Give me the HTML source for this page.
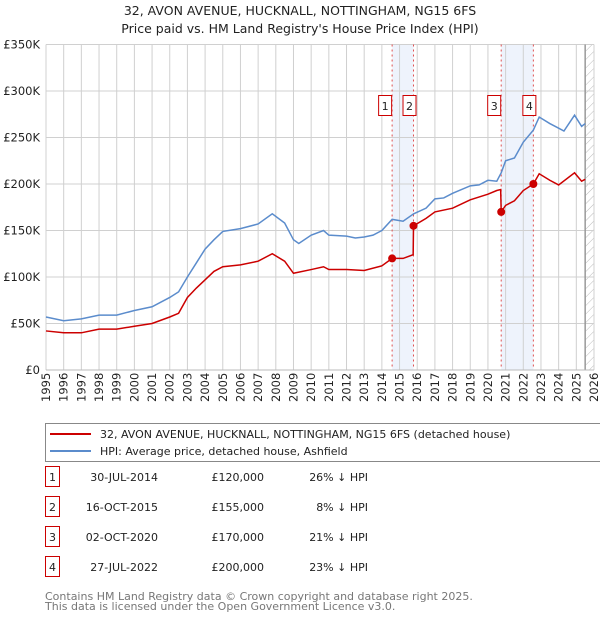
<!DOCTYPE html>
<html><head><meta charset="utf-8">
<style>
body{margin:0;background:#fff;font-family:"Liberation Sans","DejaVu Sans",sans-serif;}
svg text{font-family:"DejaVu Sans","Liberation Sans",sans-serif;}
</style></head>
<body>
<svg id="chart" width="600" height="620" xmlns="http://www.w3.org/2000/svg">
<defs>
<pattern id="hatch" patternUnits="userSpaceOnUse" width="6" height="6" patternTransform="rotate(45)">
<line x1="0" y1="0" x2="0" y2="6" stroke="#bbb" stroke-width="1"/>
</pattern>
</defs>
<text x="300" y="15" text-anchor="middle" font-size="12.5" fill="#222">32, AVON AVENUE, HUCKNALL, NOTTINGHAM, NG15 6FS</text>
<text x="300" y="33" text-anchor="middle" font-size="12.5" fill="#222">Price paid vs. HM Land Registry's House Price Index (HPI)</text>
<g id="grid"></g>
<g id="marks"></g>
<g id="axes"></g>
<rect x="45.5" y="423.5" width="560" height="38" fill="#fff" stroke="#888"/>
<line x1="50" y1="434" x2="91" y2="434" stroke="#cc0000" stroke-width="2"/>
<text x="100" y="438" font-size="11" fill="#222">32, AVON AVENUE, HUCKNALL, NOTTINGHAM, NG15 6FS (detached house)</text>
<line x1="50" y1="451" x2="91" y2="451" stroke="#5b8ccc" stroke-width="2"/>
<text x="100" y="455" font-size="11" fill="#222">HPI: Average price, detached house, Ashfield</text>
<g id="table"></g>
<text x="45" y="600" font-size="11" fill="#777">Contains HM Land Registry data © Crown copyright and database right 2025.</text>
<text x="45" y="610" font-size="11" fill="#777">This data is licensed under the Open Government Licence v3.0.</text>
</svg>
<script>
const hpiYears=[1995,1996,1997,1998,1999,2000,2001,2002,2002.5,2003,2003.5,2004,2004.5,2005,2006,2007,2007.8,2008.5,2009,2009.3,2010,2010.7,2011,2012,2012.5,2013,2013.5,2014,2014.58,2015.2,2015.8,2016.5,2017,2017.5,2018,2019,2019.5,2020,2020.5,2020.75,2021,2021.5,2022,2022.57,2022.9,2023.5,2024,2024.3,2024.9,2025.3,2025.5];
const hpiValues=[57,53,55,59,59,64,68,78,84,100,115,130,140,149,152,157,168,158,140,136,145,150,145,144,142,143,145,150,162,160,168,174,184,185,190,198,199,204,203,212,225,228,245,258,272,265,260,257,274,262,265];
const priceYears=[1995,1996,1997,1998,1999,2000,2001,2002,2002.5,2003,2003.5,2004,2004.5,2005,2006,2007,2007.8,2008.5,2009,2010,2010.7,2011,2012,2013,2014,2014.58,2015.2,2015.77,2015.79,2016.5,2017,2018,2019,2020,2020.5,2020.72,2020.75,2021,2021.5,2022,2022.57,2022.9,2023.5,2024,2024.9,2025.3,2025.5];
const priceValues=[42,40,40,44,44,47,50,57,61,78,88,97,106,111,113,117,125,117,104,108,111,108,108,107,112,120,120,124,155,163,170,174,183,189,193,194,170,177,182,193,200,211,204,199,212,203,205];
const saleYears=[2014.58,2015.79,2020.75,2022.57];
const saleValues=[120,155,170,200];
const saleLabels=["1","2","3","4"];
const saleDates=["30-JUL-2014","16-OCT-2015","02-OCT-2020","27-JUL-2022"];
const salePrices=["£120,000","£155,000","£170,000","£200,000"];
const saleDiffs=["26% ↓ HPI","8% ↓ HPI","21% ↓ HPI","23% ↓ HPI"];
const yTicks=[0,50,100,150,200,250,300,350];
const yTickLabels=["£0","£50K","£100K","£150K","£200K","£250K","£300K","£350K"];

const NS="http://www.w3.org/2000/svg";
const X0=46,X1=594,Y0=370,Y1=44.5;
const xs=y=>X0+(y-1995)/(2026-1995)*(X1-X0);
const ys=v=>Y0-v/350*(Y0-Y1);
function mk(parent,tag,attrs){const e=document.createElementNS(NS,tag);for(const k in attrs)e.setAttribute(k,attrs[k]);document.getElementById(parent).appendChild(e);return e;}

// shaded regions
for(let i=0;i<4;i+=2){
  const r=mk('grid','rect',{x:xs(saleYears[i]),y:Y1,width:xs(saleYears[i+1])-xs(saleYears[i]),height:Y0-Y1,fill:'#eef3fc'});
  
  
}
// hatch future
const h=mk('grid','rect',{x:xs(2025.5),y:Y1,width:X1-xs(2025.5),height:Y0-Y1,fill:'url(#hatch)'});


// grid
for(let yr=1995;yr<=2026;yr++){
  const l=mk('grid','line',{x1:xs(yr),x2:xs(yr),y1:Y1,y2:Y0,stroke:'#d0d0d0','stroke-width':1});
  
  
  const t=mk('axes','text',{transform:`translate(${xs(yr)+4},${Y0+32}) rotate(-90)`,'font-size':11.5,fill:'#222'});
  t.textContent=yr;
  
  
}
yTicks.forEach((v,i)=>{
  const l=mk('grid','line',{x1:X0,x2:X1,y1:ys(v),y2:ys(v),stroke:'#d0d0d0','stroke-width':1});
  
  
  const t=mk('axes','text',{x:X0-6,y:ys(v)+4,'text-anchor':'end','font-size':11.5,fill:'#222'});
  t.textContent=yTickLabels[i];
  
  
});
const fl=mk('grid','line',{x1:xs(2025.5),x2:xs(2025.5),y1:Y1,y2:Y0,stroke:'#999','stroke-width':1.5});


// sale vlines
saleYears.forEach(yr=>{
  const l=mk('marks','line',{x1:xs(yr),x2:xs(yr),y1:Y1,y2:Y0,stroke:'#e05050','stroke-width':1,'stroke-dasharray':'2,3'});
  
  
});
// series
const hp=mk('marks','path',{d:hpiYears.map((y,i)=>(i?'L':'M')+xs(y)+','+ys(hpiValues[i])).join(''),fill:'none',stroke:'#5b8ccc','stroke-width':1.5});


const pp=mk('marks','path',{d:priceYears.map((y,i)=>(i?'L':'M')+xs(y)+','+ys(priceValues[i])).join(''),fill:'none',stroke:'#cc0000','stroke-width':1.5});


saleYears.forEach((yr,i)=>{
  const c=mk('marks','circle',{cx:xs(yr),cy:ys(saleValues[i]),r:4,fill:'#cc0000'});
  
  
  const bx=xs(yr)-(i%2===0?16:-3)+ (i%2===0?0:0);
  const r=mk('marks','rect',{x:xs(yr)+(i%2===0?-10.5:-4.5)-(i%2===0?0:0)-(i%2===0?0:0),y:95.5,width:13,height:20,fill:'#fff',stroke:'#cc0000'});
  r.setAttribute('x', i%2===0 ? xs(yr)-13.5 : xs(yr)-10.5);
  
  
  const t=mk('marks','text',{x:+r.getAttribute('x')+6.5,y:110,'text-anchor':'middle','font-size':11,fill:'#222'});
  t.textContent=saleLabels[i];
  
  
});
// axis lines
const ax=mk('axes','line',{x1:X0,x2:X1,y1:Y0,y2:Y0,stroke:'#bbb'});


// table
saleLabels.forEach((lab,i)=>{
  const y=483+i*30;
  const r=mk('table','rect',{x:45.5,y:y-16.5,width:14,height:20,fill:'#fff',stroke:'#cc0000'});
  
  
  const t=mk('table','text',{x:52.5,y:y-2,'text-anchor':'middle','font-size':11,fill:'#222'});t.textContent=lab;
  
  
  const d=mk('table','text',{x:158,y:y-2,'text-anchor':'end','font-size':11,fill:'#222'});d.textContent=saleDates[i];
  
  
  const p=mk('table','text',{x:264,y:y-2,'text-anchor':'end','font-size':11,fill:'#222'});p.textContent=salePrices[i];
  
  
  const q=mk('table','text',{x:368,y:y-2,'text-anchor':'end','font-size':11,fill:'#222'});q.textContent=saleDiffs[i];
  
  
});
</script>
</body></html>
